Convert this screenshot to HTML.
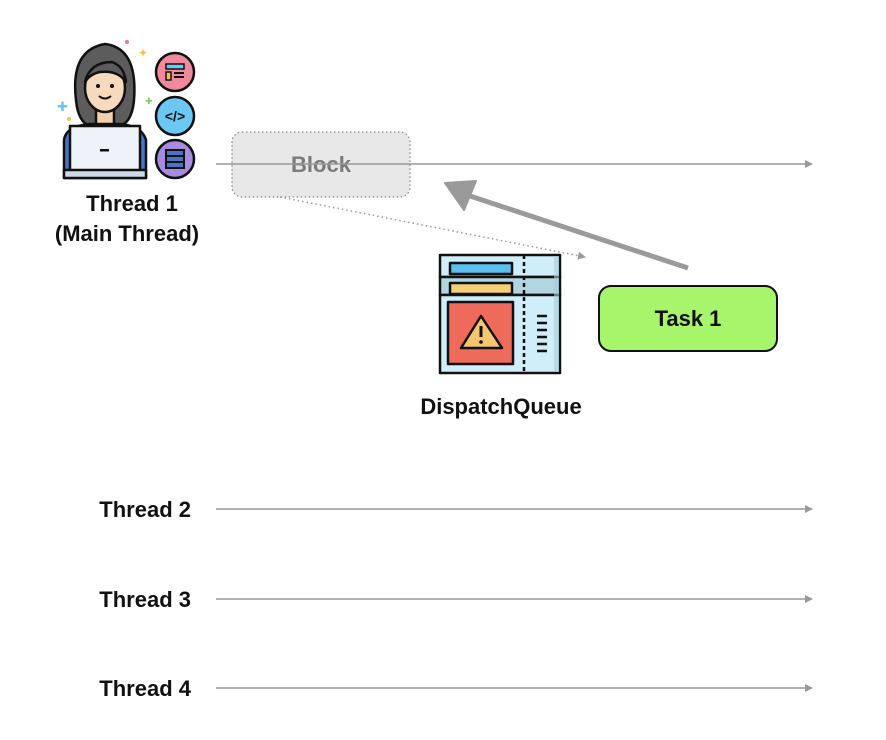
<!DOCTYPE html>
<html><head><meta charset="utf-8"><style>
html,body{margin:0;padding:0;background:#fff;}
svg{display:block;}
text{font-family:"Liberation Sans",sans-serif;}
</style></head><body>
<svg width="886" height="740" viewBox="0 0 886 740" xmlns="http://www.w3.org/2000/svg">
<defs>
<marker id="a" markerWidth="8" markerHeight="8" refX="7" refY="4" orient="auto" markerUnits="userSpaceOnUse"><path d="M0,0 L8,4 L0,8 Z" fill="#999"/></marker>
</defs>
<!-- person icon -->
<g stroke="#111" stroke-width="2.5" stroke-linejoin="round">
  <path d="M76,100 Q70,50 105,44 Q138,48 134,100 Q132,122 120,126 L90,126 Q78,122 76,100 Z" fill="#5c5c5c"/>
  <rect x="96" y="110" width="18" height="18" fill="#f4cfae"/>
  <ellipse cx="105" cy="88" rx="20" ry="24" fill="#f7d9bd"/>
  <path d="M85,82 Q90,62 112,62 Q124,66 126,82 Q118,70 100,72 Q90,74 85,82 Z" fill="#5c5c5c"/>
  <path d="M64,178 L64,140 Q66,126 90,124 L120,124 Q142,126 146,140 L146,178 Z" fill="#4a73c4"/>
  <rect x="70" y="126" width="70" height="46" fill="#eef3fa"/>
  <rect x="64" y="170" width="82" height="8" fill="#cfd8e6"/>
</g>
<circle cx="98" cy="86" r="2" fill="#111"/><circle cx="112" cy="86" r="2" fill="#111"/>
<path d="M99,96 Q105,101 111,96" stroke="#111" stroke-width="2" fill="none"/>
<rect x="100" y="149" width="9" height="2.5" fill="#111"/>
<circle cx="127" cy="42" r="2" fill="#e97a8c"/>
<text x="138" y="57" font-size="12" fill="#f3c24b">✦</text>
<text x="57" y="111" font-size="13" fill="#6cc3f0">✚</text>
<circle cx="69" cy="119" r="2" fill="#f3c24b"/>
<text x="145" y="104" font-size="9" fill="#7bd25b">✚</text>
<g stroke="#111" stroke-width="2.5">
  <circle cx="175" cy="72" r="19" fill="#ee8a9c"/>
  <circle cx="175" cy="116" r="19" fill="#6cc8f2"/>
  <circle cx="175" cy="159" r="19" fill="#a78be0"/>
</g>
<rect x="166" y="64" width="18" height="5" fill="#6cc8f2" stroke="#111" stroke-width="1.5"/>
<rect x="166" y="72" width="5" height="8" fill="#f3c24b" stroke="#111" stroke-width="1.5"/>
<path d="M174,73 h10 M174,77 h10" stroke="#111" stroke-width="2"/>
<text x="175" y="121" font-size="14" font-weight="bold" text-anchor="middle" fill="#111">&lt;/&gt;</text>
<rect x="166" y="150" width="18" height="18" fill="#4a73c4" stroke="#111" stroke-width="2"/>
<path d="M166,156 h18 M166,162 h18" stroke="#111" stroke-width="2"/>
<text x="132" y="211" font-size="22" font-weight="bold" text-anchor="middle" fill="#111">Thread 1</text>
<text x="127" y="241" font-size="22" font-weight="bold" text-anchor="middle" fill="#111">(Main Thread)</text>

<!-- Block -->
<rect x="232" y="132" width="178" height="65" rx="10" fill="#e8e8e8" stroke="#888" stroke-width="1.3" stroke-dasharray="1.5,2.5"/>
<text x="321" y="172" font-size="22" font-weight="bold" text-anchor="middle" fill="#7a7a7a">Block</text>
<line x1="216" y1="164" x2="812" y2="164" stroke="#999" stroke-width="1.5" marker-end="url(#a)"/>
<line x1="280" y1="197" x2="585" y2="257" stroke="#999" stroke-width="1.5" stroke-dasharray="1.5,3" marker-end="url(#a)"/>
<!-- thick arrow -->
<line x1="688" y1="268" x2="470" y2="196" stroke="#9a9a9a" stroke-width="5"/>
<path d="M445,183 L476,181 L464,210 Z" fill="#9a9a9a" stroke="#9a9a9a" stroke-width="2" stroke-linejoin="round"/>

<!-- Queue icon -->
<g stroke="#111" stroke-width="2.5" stroke-linejoin="round">
  <rect x="440" y="255" width="120" height="22" fill="#cfeefa"/>
  <rect x="450" y="263" width="62" height="11" fill="#5bbff0"/>
  <rect x="440" y="277" width="120" height="18" fill="#b3d5e0"/>
  <rect x="450" y="283" width="62" height="11" fill="#f6cf74"/>
  <rect x="440" y="295" width="120" height="78" fill="#cfeefa"/>
  <rect x="448" y="302" width="65" height="62" fill="#ee6a5a"/>
  <path d="M481,316 L502,348 L461,348 Z" fill="#f6c56e"/>
  <line x1="524" y1="255" x2="524" y2="373" stroke-dasharray="4,3"/>
</g>
<rect x="554" y="256" width="5" height="116" fill="#a9cbd8" opacity="0.6"/>
<rect x="479.5" y="326" width="3" height="11" fill="#111"/><circle cx="481" cy="342" r="1.8" fill="#111"/>
<path d="M537,316 h10 M537,323 h10 M537,330 h10 M537,337 h10 M537,344 h10 M537,351 h10" stroke="#111" stroke-width="2.5"/>
<text x="501" y="414" font-size="22" font-weight="bold" text-anchor="middle" fill="#111">DispatchQueue</text>

<!-- Task 1 -->
<rect x="599" y="286" width="178" height="65" rx="12" fill="#a6f56a" stroke="#111" stroke-width="2"/>
<text x="688" y="326" font-size="22" font-weight="bold" text-anchor="middle" fill="#111">Task 1</text>

<!-- threads -->
<g font-size="22" font-weight="bold" fill="#111" text-anchor="end">
<text x="191" y="517">Thread 2</text>
<text x="191" y="607">Thread 3</text>
<text x="191" y="696">Thread 4</text>
</g>
<g stroke="#999" stroke-width="1.5">
<line x1="216" y1="509" x2="812" y2="509" marker-end="url(#a)"/>
<line x1="216" y1="599" x2="812" y2="599" marker-end="url(#a)"/>
<line x1="216" y1="688" x2="812" y2="688" marker-end="url(#a)"/>
</g>
</svg>
</body></html>
